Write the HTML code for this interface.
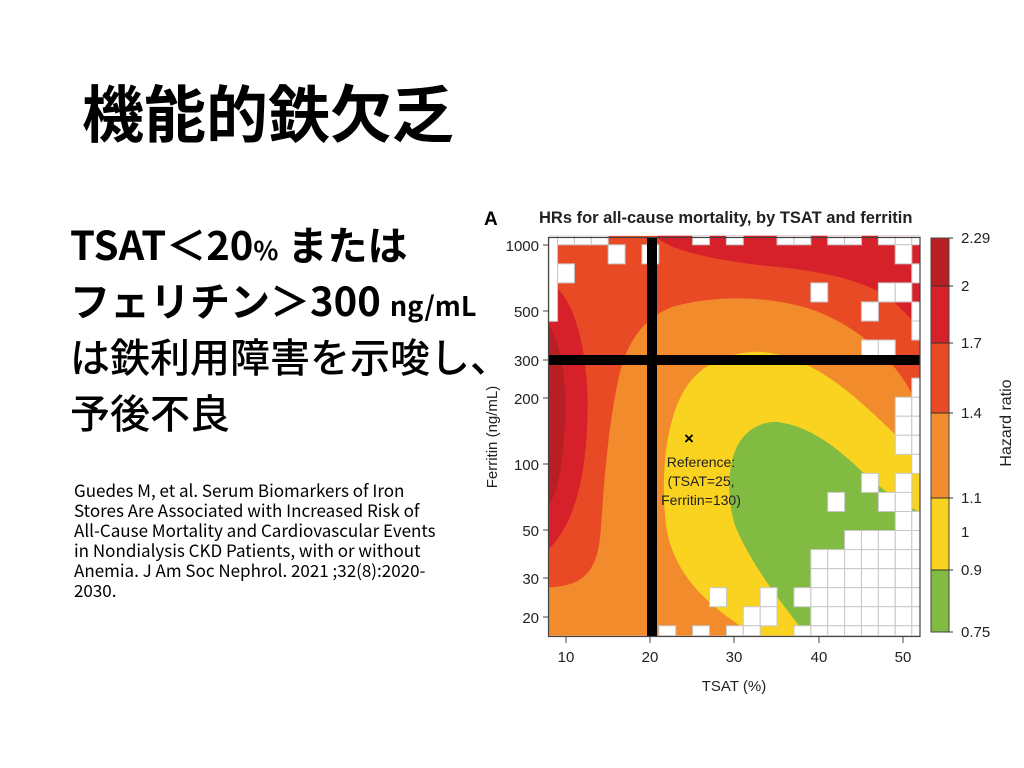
<!DOCTYPE html>
<html><head><meta charset="utf-8"><style>
body{margin:0;width:1024px;height:768px;background:#fff;position:relative;overflow:hidden;font-family:"Liberation Sans","Noto Sans CJK JP",sans-serif}
.t{position:absolute;white-space:nowrap;color:#000;font-family:"Noto Sans CJK JP",sans-serif}
</style></head><body>
<div class="t" style="left:82px;top:70px;font-size:62px;font-weight:bold;line-height:80px">機能的鉄欠乏</div>
<div class="t" style="left:70px;top:215px;font-size:40px;font-weight:bold;line-height:56px">TSAT＜20<span style="font-size:26px">%</span> または</div>
<div class="t" style="left:70px;top:271px;font-size:40px;font-weight:bold;line-height:56px">フェリチン＞300 <span style="font-size:27px">ng/mL</span></div>
<div class="t" style="left:70px;top:327px;font-size:40px;font-weight:500;line-height:56px">は鉄利用障害を示唆し、</div>
<div class="t" style="left:70px;top:383px;font-size:40px;font-weight:500;line-height:56px">予後不良</div>
<div class="t" style="left:74px;top:480px;font-size:17px;line-height:20px">Guedes M, et al. Serum Biomarkers of Iron<br>Stores Are Associated with Increased Risk of<br>All-Cause Mortality and Cardiovascular Events<br>in Nondialysis CKD Patients, with or without<br>Anemia.  J Am Soc Nephrol. 2021 ;32(8):2020-<br>2030.</div>
<svg width="1024" height="768" style="position:absolute;left:0;top:0" font-family="Liberation Sans, sans-serif">
<defs><clipPath id="c"><rect x="200" y="113" width="1078" height="1197"/></clipPath></defs>
<g transform="matrix(0.3446,0,0,0.3342,480,198)">
<g clip-path="url(#c)">
<rect x="200" y="113" width="1078" height="1197" fill="#e84a25"/>
<path d="M515,100 L515,120 C560,160 700,190 850,205 C1000,220 1150,250 1220,330 L1278,390 L1278,100 Z" fill="#d7212a"/>
<path d="M200,280 L225,270 C300,350 320,550 310,700 C300,900 250,1000 200,1050 Z" fill="#d7212a"/>
<path d="M200,380 C245,450 255,600 245,700 C240,800 225,880 200,920 Z" fill="#b71f25"/>
<path d="M200,1165 C300,1160 340,1120 350,1000 C360,850 370,700 400,550 C420,440 470,360 560,325 C680,290 850,290 980,340 C1100,390 1200,480 1250,580 L1278,620 L1278,1310 L200,1310 Z" fill="#f28b2c"/>
<path d="M770,1290 C650,1210 560,1120 540,980 C525,850 535,700 580,600 C620,510 700,465 800,460 C900,460 1000,520 1080,590 C1160,660 1230,730 1278,790 L1278,1310 L790,1310 Z" fill="#f9d320"/>
<path d="M930,1285 C850,1180 780,1080 740,980 C715,900 715,780 760,720 C790,680 830,670 860,670 C950,680 1030,740 1110,820 C1170,875 1230,920 1278,940 L1278,1310 L935,1310 Z" fill="#82bb41"/>
<g fill="#fff" stroke="#c8c8c8" stroke-width="3">
<rect x="200" y="113" width="25" height="256"/>
<rect x="225" y="113" width="49" height="27"/><rect x="274" y="113" width="49" height="27"/><rect x="323" y="113" width="49" height="27"/>
<rect x="617" y="113" width="49" height="27"/><rect x="715" y="113" width="49" height="27"/><rect x="862" y="113" width="49" height="27"/><rect x="911" y="113" width="49" height="27"/><rect x="1009" y="113" width="49" height="27"/><rect x="1058" y="113" width="49" height="27"/><rect x="1156" y="113" width="49" height="27"/><rect x="1205" y="113" width="48" height="27"/><rect x="1253" y="113" width="25" height="27"/>
<rect x="372" y="140" width="49" height="57"/><rect x="470" y="140" width="49" height="57"/><rect x="1205" y="140" width="48" height="57"/>
<rect x="225" y="197" width="49" height="57"/><rect x="1253" y="197" width="25" height="57"/>
<rect x="960" y="254" width="49" height="57"/><rect x="1156" y="254" width="49" height="57"/><rect x="1205" y="254" width="48" height="57"/>
<rect x="1107" y="311" width="49" height="57"/><rect x="1253" y="311" width="25" height="57"/>
<rect x="1253" y="368" width="25" height="57"/>
<rect x="1107" y="425" width="49" height="57"/><rect x="1156" y="425" width="49" height="57"/>
<rect x="1253" y="539" width="25" height="57"/>
<rect x="1205" y="596" width="48" height="57"/><rect x="1253" y="596" width="25" height="57"/>
<rect x="1205" y="653" width="48" height="57"/><rect x="1253" y="653" width="25" height="57"/>
<rect x="1205" y="710" width="48" height="57"/><rect x="1253" y="710" width="25" height="57"/>
<rect x="1253" y="767" width="25" height="57"/>
<rect x="1107" y="824" width="49" height="57"/><rect x="1205" y="824" width="48" height="57"/>
<rect x="1009" y="881" width="49" height="57"/><rect x="1156" y="881" width="49" height="57"/><rect x="1205" y="881" width="48" height="57"/>
<rect x="1205" y="938" width="48" height="57"/><rect x="1253" y="938" width="25" height="57"/>
</g>
<g fill="#fff" stroke="#c8c8c8" stroke-width="3">
<rect x="1058" y="995" width="49" height="57"/><rect x="1107" y="995" width="49" height="57"/><rect x="1156" y="995" width="49" height="57"/><rect x="1205" y="995" width="48" height="57"/><rect x="1253" y="995" width="25" height="57"/>
<rect x="960" y="1052" width="49" height="57"/><rect x="1009" y="1052" width="49" height="57"/><rect x="1058" y="1052" width="49" height="57"/><rect x="1107" y="1052" width="49" height="57"/><rect x="1156" y="1052" width="49" height="57"/><rect x="1205" y="1052" width="48" height="57"/><rect x="1253" y="1052" width="25" height="57"/>
<rect x="960" y="1109" width="49" height="57"/><rect x="1009" y="1109" width="49" height="57"/><rect x="1058" y="1109" width="49" height="57"/><rect x="1107" y="1109" width="49" height="57"/><rect x="1156" y="1109" width="49" height="57"/><rect x="1205" y="1109" width="48" height="57"/><rect x="1253" y="1109" width="25" height="57"/>
<rect x="666" y="1166" width="49" height="57"/><rect x="813" y="1166" width="49" height="57"/><rect x="911" y="1166" width="49" height="57"/><rect x="960" y="1166" width="49" height="57"/><rect x="1009" y="1166" width="49" height="57"/><rect x="1058" y="1166" width="49" height="57"/><rect x="1107" y="1166" width="49" height="57"/><rect x="1156" y="1166" width="49" height="57"/><rect x="1205" y="1166" width="48" height="57"/><rect x="1253" y="1166" width="25" height="57"/>
<rect x="764" y="1223" width="49" height="57"/><rect x="813" y="1223" width="49" height="57"/><rect x="960" y="1223" width="49" height="57"/><rect x="1009" y="1223" width="49" height="57"/><rect x="1058" y="1223" width="49" height="57"/><rect x="1107" y="1223" width="49" height="57"/><rect x="1156" y="1223" width="49" height="57"/><rect x="1205" y="1223" width="48" height="57"/><rect x="1253" y="1223" width="25" height="57"/>
<rect x="519" y="1280" width="49" height="30"/><rect x="617" y="1280" width="49" height="30"/><rect x="715" y="1280" width="49" height="30"/><rect x="764" y="1280" width="49" height="30"/><rect x="911" y="1280" width="49" height="30"/><rect x="960" y="1280" width="49" height="30"/><rect x="1009" y="1280" width="49" height="30"/><rect x="1058" y="1280" width="49" height="30"/><rect x="1107" y="1280" width="49" height="30"/><rect x="1156" y="1280" width="49" height="30"/><rect x="1205" y="1280" width="48" height="30"/><rect x="1253" y="1280" width="25" height="30"/>
</g>
</g>
</g>
<rect x="549" y="355" width="371" height="10" fill="#000"/>
<rect x="647" y="237" width="10" height="399" fill="#000"/>
<rect x="548.5" y="237.5" width="371.5" height="399" fill="none" stroke="#444" stroke-width="1.2"/>
<text x="689" y="444" font-size="17" font-weight="bold" text-anchor="middle">×</text>
<g font-size="14" fill="#222" text-anchor="middle"><text x="701" y="467">Reference:</text><text x="701" y="486">(TSAT=25,</text><text x="701" y="505">Ferritin=130)</text></g>
<text x="484" y="225" font-size="19" font-weight="bold">A</text>
<text x="539" y="223" font-size="16.5" font-weight="bold" fill="#222">HRs for all-cause mortality, by TSAT and ferritin</text>
<g stroke="#444" stroke-width="1"><line x1="543" y1="245" x2="549" y2="245"/><line x1="543" y1="311" x2="549" y2="311"/><line x1="543" y1="360" x2="549" y2="360"/><line x1="543" y1="398" x2="549" y2="398"/><line x1="543" y1="464" x2="549" y2="464"/><line x1="543" y1="530" x2="549" y2="530"/><line x1="543" y1="578" x2="549" y2="578"/><line x1="543" y1="617" x2="549" y2="617"/>
<line x1="566" y1="637" x2="566" y2="643"/><line x1="650" y1="637" x2="650" y2="643"/><line x1="734" y1="637" x2="734" y2="643"/><line x1="819" y1="637" x2="819" y2="643"/><line x1="903" y1="637" x2="903" y2="643"/></g>
<g font-size="15" fill="#222" text-anchor="end"><text x="539" y="251">1000</text><text x="539" y="317">500</text><text x="539" y="366">300</text><text x="539" y="404">200</text><text x="539" y="470">100</text><text x="539" y="536">50</text><text x="539" y="584">30</text><text x="539" y="623">20</text></g>
<g font-size="15" fill="#222" text-anchor="middle"><text x="566" y="662">10</text><text x="650" y="662">20</text><text x="734" y="662">30</text><text x="819" y="662">40</text><text x="903" y="662">50</text><text x="734" y="691">TSAT (%)</text></g>
<text transform="translate(497,437) rotate(-90)" font-size="15" fill="#222" text-anchor="middle">Ferritin (ng/mL)</text>
<rect x="931" y="238" width="18" height="48" fill="#b71f25"/>
<rect x="931" y="286" width="18" height="57" fill="#d7212a"/>
<rect x="931" y="343" width="18" height="70" fill="#e84a25"/>
<rect x="931" y="413" width="18" height="85" fill="#f28b2c"/>
<rect x="931" y="498" width="18" height="72" fill="#f9d320"/>
<rect x="931" y="570" width="18" height="62" fill="#82bb41"/>
<rect x="931" y="238" width="18" height="394" fill="none" stroke="#444" stroke-width="1"/>
<g stroke="#333" stroke-width="1"><line x1="931" y1="286" x2="953" y2="286"/><line x1="931" y1="343" x2="953" y2="343"/><line x1="931" y1="413" x2="953" y2="413"/><line x1="931" y1="498" x2="953" y2="498"/><line x1="931" y1="570" x2="953" y2="570"/><line x1="949" y1="238" x2="953" y2="238"/><line x1="949" y1="632" x2="953" y2="632"/></g>
<g font-size="15" fill="#222"><text x="961" y="243">2.29</text><text x="961" y="291">2</text><text x="961" y="348">1.7</text><text x="961" y="418">1.4</text><text x="961" y="503">1.1</text><text x="961" y="537">1</text><text x="961" y="575">0.9</text><text x="961" y="637">0.75</text></g>
<text transform="translate(1011,423) rotate(-90)" font-size="16" fill="#222" text-anchor="middle">Hazard ratio</text>
</svg>
</body></html>
